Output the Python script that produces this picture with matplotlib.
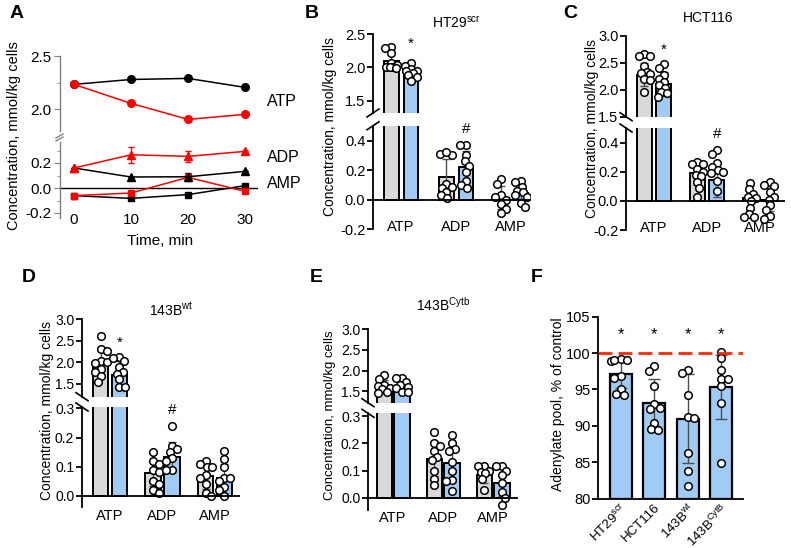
import matplotlib
matplotlib.use('Agg')
import matplotlib.pyplot as plt
import numpy as np
from matplotlib.lines import Line2D
from matplotlib.ticker import MultipleLocator

plt.rcParams['font.family'] = ['Liberation Sans', 'DejaVu Sans']
plt.rcParams['mathtext.fontset'] = 'custom'
plt.rcParams['mathtext.rm'] = 'Liberation Sans'
plt.rcParams['mathtext.it'] = 'Liberation Sans:italic'
plt.rcParams['mathtext.bf'] = 'Liberation Sans:bold'

# ---------------- data ----------------
# Panel A (time course)
time_min = [0, 10, 20, 30]
atp_ctrl_A = [2.234, 2.28, 2.29, 2.206]
atp_trt_A = [2.234, 2.056, 1.906, 1.953]
adp_ctrl_A = [0.16, 0.088, 0.09, 0.133]
adp_ctrl_err_A = [0.0, 0.0, 0.03, 0.0]
adp_trt_A = [0.16, 0.266, 0.253, 0.293]
adp_trt_err_A = [0.0, 0.065, 0.045, 0.0]
amp_ctrl_A = [-0.061, -0.083, -0.053, 0.019]
amp_trt_A = [-0.061, -0.04, 0.085, -0.027]

metabolites = ['ATP', 'ADP', 'AMP']

# Panel B  HT29scr
B_ctrl_mean = [2.10, 0.155, 0.015]
B_ctrl_sd = [0.11, 0.12, 0.08]
B_trt_mean = [1.94, 0.225, 0.045]
B_trt_sd = [0.08, 0.105, 0.06]
B_ctrl_pts = [[2.31, 2.29, 2.22, 2.06, 2.03, 2.01, 2.00, 2.00, 1.99],
              [0.30, 0.31, 0.32, 0.11, 0.09, 0.08, 0.05, 0.03, 0.01],
              [0.14, 0.11, 0.03, 0.02, 0.00, -0.03, -0.06, -0.09]]
B_trt_pts = [[2.06, 2.02, 1.97, 1.95, 1.95, 1.92, 1.88, 1.85, 1.80],
             [0.37, 0.37, 0.30, 0.26, 0.23, 0.19, 0.13, 0.10, 0.08],
             [0.13, 0.12, 0.09, 0.06, 0.05, 0.03, 0.02, -0.02, -0.05]]

# Panel C  HCT116
C_ctrl_mean = [2.28, 0.19, 0.02]
C_ctrl_sd = [0.22, 0.08, 0.08]
C_trt_mean = [2.11, 0.145, 0.01]
C_trt_sd = [0.22, 0.12, 0.08]
C_ctrl_pts = [[2.67, 2.62, 2.62, 2.43, 2.33, 2.31, 2.30, 2.20, 2.18, 1.96],
              [0.27, 0.25, 0.25, 0.22, 0.20, 0.18, 0.17, 0.13, 0.09, 0.03],
              [0.12, 0.08, 0.05, 0.03, 0.02, 0.00, -0.05, -0.09, -0.11, -0.11]]
C_trt_pts = [[2.48, 2.40, 2.27, 2.20, 2.15, 2.08, 2.04, 1.96, 1.93, 1.87],
             [0.35, 0.32, 0.26, 0.23, 0.21, 0.20, 0.19, 0.14, 0.07],
             [0.13, 0.11, 0.10, 0.06, 0.03, 0.01, -0.03, -0.06, -0.10, -0.12]]

# Panel D  143Bwt
D_ctrl_mean = [2.01, 0.077, 0.067]
D_ctrl_sd = [0.34, 0.045, 0.045]
D_trt_mean = [1.70, 0.134, 0.06]
D_trt_sd = [0.32, 0.05, 0.05]
D_ctrl_pts = [[2.62, 2.30, 2.26, 2.04, 2.00, 1.98, 1.85, 1.78, 1.68, 1.55],
              [0.15, 0.12, 0.11, 0.09, 0.08, 0.05, 0.04, 0.02, 0.01],
              [0.12, 0.11, 0.10, 0.10, 0.07, 0.06, 0.04, 0.01, 0.00]]
D_trt_pts = [[2.12, 2.10, 2.04, 1.90, 1.78, 1.73, 1.60, 1.43, 1.42],
             [0.24, 0.17, 0.16, 0.15, 0.13, 0.12, 0.09, 0.09],
             [0.155, 0.125, 0.10, 0.06, 0.06, 0.05, 0.03, 0.02, 0.00]]

# Panel E  143BCytb
E_ctrl_mean = [1.62, 0.144, 0.083]
E_ctrl_sd = [0.15, 0.065, 0.03]
E_trt_mean = [1.60, 0.128, 0.055]
E_trt_sd = [0.14, 0.07, 0.05]
E_ctrl_pts = [[1.88, 1.80, 1.65, 1.62, 1.58, 1.55, 1.48, 1.46],
              [0.24, 0.20, 0.19, 0.17, 0.15, 0.14, 0.10, 0.07, 0.045],
              [0.115, 0.115, 0.10, 0.095, 0.09, 0.07, 0.03]]
E_trt_pts = [[1.83, 1.82, 1.72, 1.65, 1.61, 1.58, 1.49, 1.47],
             [0.23, 0.20, 0.18, 0.17, 0.13, 0.10, 0.065, 0.06, 0.025],
             [0.115, 0.115, 0.10, 0.085, 0.055, 0.02, 0.00, -0.025]]

# Panel F  adenylate pool
F_cells = ['HT29$^{\\mathrm{scr}}$', 'HCT116', '143B$^{\\mathrm{wt}}$', '143B$^{\\mathrm{CytB}}$']
F_mean = [97.1, 93.2, 91.0, 95.3]
F_sd = [1.9, 3.2, 6.1, 4.4]
F_pts = [[99.2, 99.0, 98.9, 99.1, 96.8, 96.6, 95.1, 94.4, 94.3],
         [98.2, 97.6, 95.5, 93.0, 92.5, 92.3, 90.4, 89.6, 89.4],
         [97.7, 97.2, 94.3, 91.2, 91.1, 86.3, 83.8, 81.7],
         [100.2, 99.3, 97.7, 96.5, 96.5, 95.5, 93.2, 84.9]]

# ---------------- styling ----------------
GRAY = '#d9d9d9'
BLUE = '#a0cbf5'
ERR = '#4d4d4d'
RED = '#ff0000'

W, H = 791, 548
fig = plt.figure(figsize=(W / 100, H / 100), dpi=100)


def add_ax(l, t, r, b):
    ax = fig.add_axes([l / W, 1 - b / H, (r - l) / W, (b - t) / H])
    ax.set_facecolor('none')
    return ax


def pxline(x0, y0, x1, y1, color='black', lw=1.2):
    fig.add_artist(Line2D([x0 / W, x1 / W], [1 - y0 / H, 1 - y1 / H],
                          transform=fig.transFigure, color=color, lw=lw))


def ftext(x, y, s, **kw):
    fig.text(x / W, 1 - y / H, s, **kw)


def swarm(ax, xc, vals, d=6.0, maxhalf=6.0):
    T = ax.transData
    vals = np.asarray(vals, float)
    xc_px = T.transform((xc, 0))[0]
    ys = T.transform(np.column_stack([np.full(len(vals), xc), vals]))[:, 1]
    order = np.argsort(-vals)
    placed = []
    offs = np.zeros(len(vals))
    for n, i in enumerate(order):
        cands = [0.0]
        for k in np.arange(0.5, maxhalf + 0.01, 0.5):
            cands += ([k, -k] if n % 2 == 0 else [-k, k])
        best, best2, bestd = None, 0.0, -1
        for c in cands:
            md = min([np.hypot(c - po, ys[i] - py) for po, py in placed], default=1e9)
            if md >= d:
                best = c
                break
            if md > bestd:
                bestd, best2 = md, c
        if best is None:
            best = best2
        placed.append((best, ys[i]))
        offs[i] = best
    inv = T.inverted()
    return inv.transform(np.column_stack([xc_px + offs, ys]))[:, 0]


# ---------------- Panel A ----------------
axAu = add_ax(60, 56, 258, 130.7)
axAl = add_ax(60, 141.75, 258, 218)
for ax in (axAu, axAl):
    ax.set_xlim(-2.456, 32.28)
    for s in ('top', 'right', 'bottom'):
        ax.spines[s].set_visible(False)
    ax.spines['left'].set_color('#808080')
    ax.spines['left'].set_linewidth(1.0)
    ax.tick_params(axis='y', which='both', color='#808080', labelsize=11, pad=2)
    ax.tick_params(axis='y', which='major', length=4)
    ax.tick_params(axis='y', which='minor', length=2.5)
axAu.set_ylim(1.8, 2.5)
axAu.set_yticks([2.0, 2.5])
axAu.yaxis.set_minor_locator(MultipleLocator(0.25))
axAu.set_yticklabels(['2.0', '2.5'])
axAu.set_xticks([])
axAl.set_ylim(-0.24, 0.37)
axAl.set_yticks([-0.2, 0.0, 0.2])
axAl.set_yticklabels(['-0.2', '0.0', '0.2'])
axAl.yaxis.set_minor_locator(MultipleLocator(0.1))
axAl.axhline(0, color='black', lw=1.0, zorder=1)
axAl.set_xticks(time_min)
axAl.tick_params(axis='x', length=0, labelsize=11, pad=-3.6)

axAu.plot(time_min, atp_ctrl_A, '-o', color='black', ms=5.5, lw=1.1, clip_on=False)
axAu.plot(time_min, atp_trt_A, '-o', color=RED, ms=5.5, lw=1.1, clip_on=False)
axAl.errorbar(time_min, adp_ctrl_A, yerr=adp_ctrl_err_A, fmt='-^', color='black', ms=6,
              lw=1.1, elinewidth=1, capsize=2, clip_on=False)
axAl.errorbar(time_min, adp_trt_A, yerr=adp_trt_err_A, fmt='-^', color=RED, ms=6,
              lw=1.1, elinewidth=1, capsize=2, clip_on=False)
axAl.plot(time_min, amp_ctrl_A, '-s', color='black', ms=5, lw=1.1, clip_on=False)
axAl.plot(time_min, amp_trt_A, '-s', color=RED, ms=5, lw=1.1, clip_on=False)
# axis break marks
pxline(56, 138, 63, 134, color='#808080', lw=1)
pxline(56, 141, 63, 137, color='#808080', lw=1)
ftext(14, 136, 'Concentration, mmol/kg cells', rotation=90, ha='center', va='center', fontsize=10.5)
ftext(160, 241, 'Time, min', ha='center', va='center', fontsize=11)
ftext(267, 101, 'ATP', ha='left', va='center', fontsize=11.5)
ftext(267, 158, 'ADP', ha='left', va='center', fontsize=11.5)
ftext(267, 183, 'AMP', ha='left', va='center', fontsize=11.5)
ftext(10, 13, 'A', ha='left', va='center', fontsize=14, fontweight='bold')


# ---------------- Panels B-E ----------------
def broken_panel(cfg, c_mean, c_sd, c_pts, t_mean, t_sd, t_pts):
    xl, xr = cfg['xpx']
    axu = add_ax(xl, cfg['up'][0], xr, cfg['up'][1])
    axl = add_ax(xl, cfg['lo'][0], xr, cfg['lo'][1])
    axu.set_ylim(cfg['uplim'])
    axl.set_ylim(cfg['lolim'])
    x = np.arange(len(metabolites))
    off, bw = cfg['off'], cfg['bw']
    for ax in (axu, axl):
        ax.set_xlim(cfg['xlim'])
        ax.bar(x - off, c_mean, bw, color=GRAY, edgecolor='black', linewidth=1.4, zorder=2)
        ax.bar(x + off, t_mean, bw, color=BLUE, edgecolor='black', linewidth=1.4, zorder=2)
        ax.errorbar(x - off, c_mean, yerr=c_sd, fmt='none', ecolor=ERR, elinewidth=1,
                    capsize=3, capthick=1, zorder=3)
        ax.errorbar(x + off, t_mean, yerr=t_sd, fmt='none', ecolor=ERR, elinewidth=1,
                    capsize=3, capthick=1, zorder=3)
        for s in ('top', 'right', 'bottom'):
            ax.spines[s].set_visible(False)
        ax.spines['left'].set_linewidth(1.3)
        ax.tick_params(axis='y', length=4, width=1.3, labelsize=cfg['fs'], pad=1.5)
    axu.set_yticks(cfg['upticks'])
    axu.set_yticklabels(['%.1f' % v for v in cfg['upticks']])
    axu.set_xticks([])
    axl.set_yticks(cfg['loticks'])
    axl.set_yticklabels(['%.1f' % v for v in cfg['loticks']])
    axl.axhline(0, color='black', lw=1.3, zorder=5)
    axl.set_xticks(x)
    axl.set_xticklabels(metabolites)
    axl.tick_params(axis='x', length=0, labelsize=cfg['xfs'], pad=cfg['xpad'])
    for i in range(len(metabolites)):
        host = axu if i == 0 else axl
        for sign, pts in ((-1, c_pts[i]), (1, t_pts[i])):
            xs = swarm(host, i + sign * off, pts)
            for ax in (axu, axl):
                ax.scatter(xs, pts, s=30, facecolor='white', edgecolor='black',
                           linewidth=1.1, zorder=4)
    for which, xi, yv, s in cfg['marks']:
        a = axu if which == 'u' else axl
        a.text(xi + off, yv, s, ha='center', va='center', fontsize=11, clip_on=False)
    # break marks
    ax_x = xl
    sl = cfg['slash']
    for yy in (cfg['up'][1], cfg['lo'][0]):
        pxline(ax_x - 6, yy - 4 * sl, ax_x + 6, yy + 4 * sl, lw=1.2)
    ftext(cfg['title'][0], cfg['title'][1], cfg['title'][2], ha='center', va='center', fontsize=10)
    ftext(cfg['ylab'][0], cfg['ylab'][1], 'Concentration, mmol/kg cells', rotation=90,
          ha='center', va='center', fontsize=cfg['yfs'])
    ftext(cfg['letter'][0], cfg['letter'][1], cfg['letter'][2], ha='left', va='center',
          fontsize=14, fontweight='bold')


cfgB = dict(xpx=(373, 530), up=(34, 113), uplim=(1.316, 2.5), upticks=[1.5, 2.0, 2.5],
            lo=(125.75, 229.5), lolim=(-0.2, 0.5), loticks=[-0.2, 0.0, 0.2, 0.4],
            xlim=(-0.51, 2.345), off=0.18, bw=0.27, fs=10.5, xfs=10.5, xpad=-6.5,
            marks=[('u', 0, 2.36, '*'), ('l', 1, 0.48, '#')], slash=-1,
            title=(456, 23, 'HT29$^{\\mathrm{scr}}$'), ylab=(330, 126), yfs=10,
            letter=(305, 13, 'B'))
broken_panel(cfgB, B_ctrl_mean, B_ctrl_sd, B_ctrl_pts, B_trt_mean, B_trt_sd, B_trt_pts)

cfgC = dict(xpx=(626, 785), up=(35.7, 116.7), uplim=(1.5, 3.0), upticks=[1.5, 2.0, 2.5, 3.0],
            lo=(128, 230.2), lolim=(-0.2, 0.5), loticks=[-0.2, 0.0, 0.2, 0.4],
            xlim=(-0.53, 2.47), off=0.185, bw=0.28, fs=10.5, xfs=10.5, xpad=-6.5,
            marks=[('u', 0, 2.74, '*'), ('l', 1, 0.46, '#')], slash=1,
            title=(708, 18, 'HCT116'), ylab=(592, 129), yfs=10,
            letter=(563, 13, 'C'))
broken_panel(cfgC, C_ctrl_mean, C_ctrl_sd, C_ctrl_pts, C_trt_mean, C_trt_sd, C_trt_pts)

cfgD = dict(xpx=(82, 240), up=(319.3, 396.7), uplim=(1.2, 3.0), upticks=[1.5, 2.0, 2.5, 3.0],
            lo=(407, 507.3), lolim=(-0.04, 0.305), loticks=[0.0, 0.1, 0.2, 0.3],
            xlim=(-0.533, 2.476), off=0.18, bw=0.295, fs=10, xfs=10.5, xpad=1.2,
            marks=[('u', 0, 2.46, '*'), ('l', 1, 0.295, '#')], slash=1,
            title=(171, 310, '143B$^{\\mathrm{wt}}$'), ylab=(47, 410), yfs=10,
            letter=(22, 278, 'D'))
broken_panel(cfgD, D_ctrl_mean, D_ctrl_sd, D_ctrl_pts, D_trt_mean, D_trt_sd, D_trt_pts)

cfgE = dict(xpx=(368, 518), up=(329.3, 402.7), uplim=(1.22, 3.0), upticks=[1.5, 2.0, 2.5, 3.0],
            lo=(413.3, 510), lolim=(-0.045, 0.31), loticks=[0.0, 0.1, 0.2, 0.3],
            xlim=(-0.5, 2.5), off=0.175, bw=0.31, fs=10, xfs=10.5, xpad=0.5,
            marks=[], slash=1,
            title=(443, 305, '143B$^{\\mathrm{Cytb}}$'), ylab=(330, 415), yfs=9.5,
            letter=(310, 278, 'E'))
broken_panel(cfgE, E_ctrl_mean, E_ctrl_sd, E_ctrl_pts, E_trt_mean, E_trt_sd, E_trt_pts)

# ---------------- Panel F ----------------
axF = add_ax(598.3, 316.7, 743.3, 498.7)
axF.set_xlim(-0.663, 3.665)
axF.set_ylim(80, 105)
xf = np.arange(len(F_cells))
axF.bar(xf, [m - 80 for m in F_mean], 0.657, bottom=80, color=BLUE, edgecolor='black',
        linewidth=1.6, zorder=2)
axF.errorbar(xf, F_mean, yerr=F_sd, fmt='none', ecolor=ERR, elinewidth=1, capsize=4,
             capthick=1, zorder=3)
for i in range(len(F_cells)):
    xs = swarm(axF, i, F_pts[i], d=6.5, maxhalf=10)
    axF.scatter(xs, F_pts[i], s=30, facecolor='white', edgecolor='black', linewidth=1.1,
                zorder=4, clip_on=False)
    axF.text(i, 102.6, '*', ha='center', va='center', fontsize=12)
axF.axhline(100, color='#ff2a00', lw=2, dashes=(5, 2.2), zorder=5)
for s in ('top', 'right'):
    axF.spines[s].set_visible(False)
axF.spines['left'].set_linewidth(1.3)
axF.spines['bottom'].set_linewidth(1.3)
axF.set_yticks([80, 85, 90, 95, 100, 105])
axF.tick_params(axis='y', length=4, width=1.3, labelsize=10.5, pad=1.5)
axF.set_xticks(xf)
axF.set_xticklabels(F_cells, rotation=45, ha='right', rotation_mode='anchor', fontsize=9.5)
axF.tick_params(axis='x', length=0, pad=2)
ftext(558, 404, 'Adenylate pool, % of control', rotation=90, ha='center', va='center', fontsize=10)
ftext(531, 278, 'F', ha='left', va='center', fontsize=14, fontweight='bold')

fig.savefig('out.png', dpi=100)
